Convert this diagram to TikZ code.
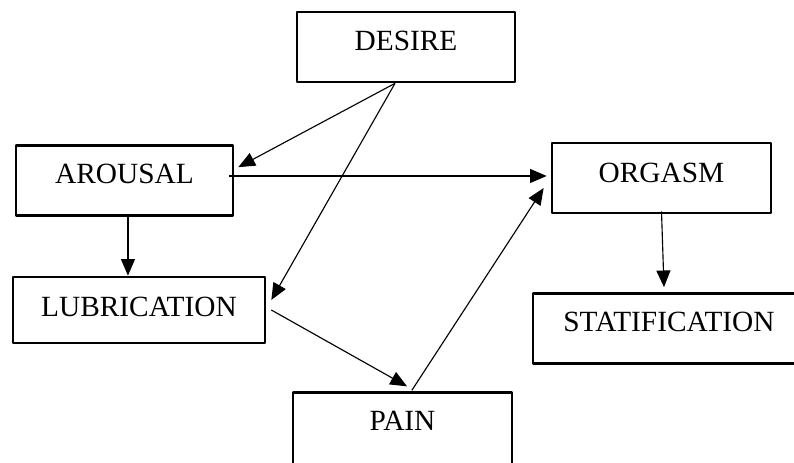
\documentclass[tikz,border=0pt]{standalone}
\usepackage{fontspec}
\setmainfont{Liberation Serif}
\usepackage{tikz}
\usetikzlibrary{arrows.meta}

\begin{document}
\begin{tikzpicture}[x=0.75pt, y=-0.75pt, line join=round,
  stage/.style={draw, line width=2pt, inner sep=0pt, minimum height=52.5pt,
    text height=14.4pt, text depth=9.5pt, font=\fontsize{22}{26}\selectfont},
  link/.style={line width=0.85pt, -{Triangle[length=12.5pt, width=10.5pt]}}]
\clip (0,0) rectangle (794,462);
\node[stage, minimum width=163.5pt] (desire) at (406,47) {DESIRE};
\node[stage, minimum width=162.75pt] (arousal) at (124.5,180.5) {AROUSAL};
\node[stage, minimum width=164.25pt, text depth=7.5pt] (orgasm) at (661.5,178) {ORGASM};
\node[stage, minimum width=189pt, minimum height=49.5pt, text depth=4.5pt] (lubrication) at (139,310) {LUBRICATION};
\node[stage, minimum width=204pt] (statification) at (669,328.5) {STATIFICATION};
\node[stage, minimum width=164.25pt, minimum height=56pt, text depth=13pt] (pain) at (402.5,430) {PAIN};
\draw[link] ([xshift=-8.25pt]desire.south) -- ([xshift=3pt, yshift=10pt]arousal.east);
\draw[link] ([xshift=-8.25pt]desire.south) -- ([xshift=3.75pt, yshift=7.5pt]lubrication.east);
\coordinate (ao) at ([xshift=-3.75pt, yshift=3.4pt]arousal.east);
\draw[link, shorten >=3pt] (ao) -- (ao -| orgasm.west);
\coordinate (al) at ([xshift=2.6pt]arousal.south);
\draw[link] (al) -- (al |- lubrication.north);
\draw[link] ([xshift=3.75pt]lubrication.east) -- ([xshift=3.4pt, yshift=3.75pt]pain.north);
\draw[link] ([xshift=7pt, yshift=0.75pt]pain.north) -- ([xshift=-5.25pt, yshift=-7.5pt]orgasm.west);
\draw[link] ([yshift=2.25pt]orgasm.south) -- ([xshift=-3.75pt, yshift=3.75pt]statification.north);
\end{tikzpicture}
\end{document}
